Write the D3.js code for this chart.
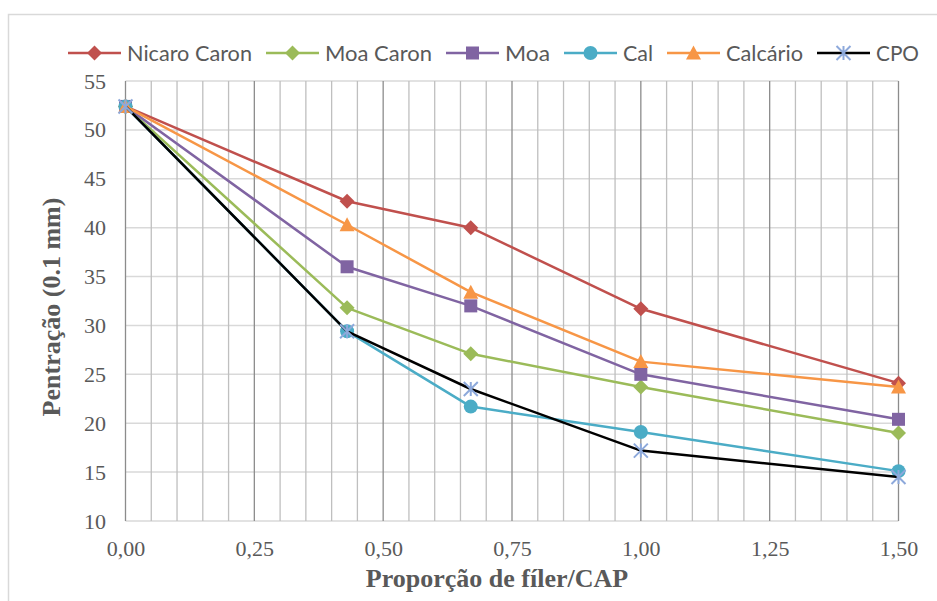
<!DOCTYPE html>
<html><head><meta charset="utf-8">
<script src="https://cdn.jsdelivr.net/npm/d3@7"></script>
<style>body{margin:0;background:#fff}svg{display:block}</style></head>
<body>
<svg id="c" width="937" height="601"></svg>
<script>
// ---- data ----
const xValues = [0, 0.43, 0.67, 1.0, 1.5];
const seriesNames = ["Nicaro Caron", "Moa Caron", "Moa", "Cal", "Calcário", "CPO"];
const nicaroCaron = [52.4, 42.7, 40.0, 31.7, 24.1];
const moaCaron    = [52.4, 31.8, 27.1, 23.7, 19.0];
const moa         = [52.4, 36.0, 32.0, 25.0, 20.4];
const cal         = [52.4, 29.4, 21.7, 19.1, 15.1];
const calcario    = [52.4, 40.3, 33.4, 26.3, 23.7];
const cpo         = [52.4, 29.4, 23.5, 17.2, 14.5];
const yTicks = [10, 15, 20, 25, 30, 35, 40, 45, 50, 55];
const xTicks = [0, 0.25, 0.5, 0.75, 1.0, 1.25, 1.5];
const xTickLabels = ["0,00", "0,25", "0,50", "0,75", "1,00", "1,25", "1,50"];
const yTitle = "Pentração (0.1 mm)";
const xTitle = "Proporção de fíler/CAP";

// ---- styles ----
const lineColors   = ["#C0504D", "#9BBB59", "#8064A2", "#4BACC6", "#F79646", "#000000"];
const markerColors = ["#C0504D", "#9BBB59", "#8064A2", "#4BACC6", "#F79646", "#8DA9DB"];
const markerTypes  = ["diamond", "diamond", "square", "circle", "triangle", "star"];
const legendTextWidths = [125, 107, 45, 30, 77, 43];

const allValues = [nicaroCaron, moaCaron, moa, cal, calcario, cpo];
const series = seriesNames.map((n, i) => ({
  name: n, line: lineColors[i], marker: markerColors[i], type: markerTypes[i],
  pts: xValues.map((x, j) => ({x, y: allValues[i][j]}))
}));

const svg = d3.select("#c");
const x = d3.scaleLinear().domain([0, 1.5]).range([125.5, 898.5]);
const y = d3.scaleLinear().domain([10, 55]).range([521, 81]);

// outer frame
svg.append("rect").attr("x", 8.5).attr("y", 14.5).attr("width", 1000).attr("height", 700)
  .attr("fill", "#fff").attr("stroke", "#d9d9d9").attr("stroke-width", 1.5);

// horizontal gridlines
svg.append("g").selectAll("line").data(yTicks).join("line")
  .attr("x1", x(0)).attr("x2", x(1.5))
  .attr("y1", d => y(d)).attr("y2", d => y(d))
  .attr("stroke", "#d9d9d9").attr("stroke-width", 1.5);

// vertical gridlines (minor every 0.05, major every 0.25)
const vLines = d3.range(0, 31).map(i => i * 0.05);
svg.append("g").selectAll("line").data(vLines).join("line")
  .attr("x1", d => x(d)).attr("x2", d => x(d))
  .attr("y1", y(55)).attr("y2", y(10))
  .attr("stroke", (d, i) => i % 5 === 0 ? "#8c8c8c" : "#bfbfbf")
  .attr("stroke-width", 1.3);

// axes
const yAxis = svg.append("g").attr("transform", `translate(${x(0)},0)`)
  .call(d3.axisLeft(y).tickValues(yTicks).tickSize(0).tickPadding(19.5));
const xAxis = svg.append("g").attr("transform", `translate(0,${y(10)})`)
  .call(d3.axisBottom(x).tickValues(xTicks).tickSize(0).tickPadding(19.5)
    .tickFormat((d, i) => xTickLabels[i]));
[yAxis, xAxis].forEach(a => {
  a.select(".domain").remove();
  a.selectAll("text").attr("font-family", "'Liberation Serif', 'Times New Roman', serif")
    .attr("font-size", 22).attr("fill", "#595959");
});

// axis titles
svg.append("text").attr("transform", `translate(60,${(y(55) + y(10)) / 2 + 6}) rotate(-90)`)
  .attr("text-anchor", "middle").attr("font-family", "'Liberation Serif', serif")
  .attr("font-weight", "bold").attr("font-size", 26).attr("fill", "#595959").text(yTitle);
svg.append("text").attr("x", 497).attr("y", 587)
  .attr("text-anchor", "middle").attr("font-family", "'Liberation Serif', serif")
  .attr("font-weight", "bold").attr("font-size", 26).attr("fill", "#595959").text(xTitle);

// markers
function drawMarker(g, type, color, cx, cy) {
  const s = 7;
  if (type === "diamond") {
    g.append("path").attr("d", `M${cx},${cy - s - 0.5}L${cx + s + 0.5},${cy}L${cx},${cy + s + 0.5}L${cx - s - 0.5},${cy}Z`).attr("fill", color);
  } else if (type === "square") {
    g.append("rect").attr("x", cx - 6.5).attr("y", cy - 6.5).attr("width", 13).attr("height", 13).attr("fill", color);
  } else if (type === "circle") {
    g.append("circle").attr("cx", cx).attr("cy", cy).attr("r", 7).attr("fill", color);
  } else if (type === "triangle") {
    g.append("path").attr("d", `M${cx},${cy - 7.5}L${cx + 7.5},${cy + 6.5}L${cx - 7.5},${cy + 6.5}Z`).attr("fill", color);
  } else if (type === "star") {
    const r = 7;
    g.append("path").attr("d",
      `M${cx - r},${cy - r}L${cx + r},${cy + r}M${cx - r},${cy + r}L${cx + r},${cy - r}M${cx},${cy - r}L${cx},${cy + r}`)
      .attr("stroke", color).attr("stroke-width", 2).attr("fill", "none");
  }
}

const line = d3.line().x(d => x(d.x)).y(d => y(d.y));
series.forEach(s => {
  const g = svg.append("g");
  g.append("path").datum(s.pts).attr("d", line).attr("fill", "none")
    .attr("stroke", s.line).attr("stroke-width", 2.5).attr("stroke-linejoin", "round");
  s.pts.forEach(p => drawMarker(g, s.type, s.marker, x(p.x), y(p.y)));
});

// legend
let lx = 68;
const ly = 53;
series.forEach((s, i) => {
  const g = svg.append("g");
  g.append("line").attr("x1", lx).attr("x2", lx + 53).attr("y1", ly).attr("y2", ly)
    .attr("stroke", s.line).attr("stroke-width", 2.5);
  drawMarker(g, s.type, s.marker, lx + 26.5, ly);
  g.append("text").attr("x", lx + 59).attr("y", ly + 7.5)
    .attr("font-family", "Lato, 'Open Sans', sans-serif").attr("font-size", 21)
    .attr("fill", "#595959").attr("textLength", legendTextWidths[i])
    .attr("lengthAdjust", "spacingAndGlyphs").text(s.name);
  lx += 59 + legendTextWidths[i] + 14;
});
</script>
</body></html>
